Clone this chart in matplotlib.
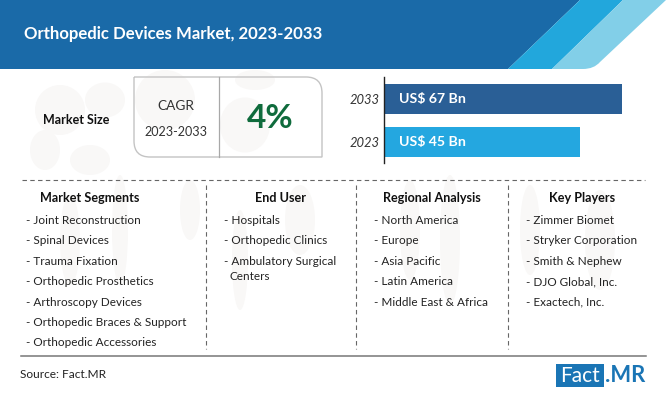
import matplotlib
matplotlib.use('Agg')
import matplotlib.pyplot as plt
from matplotlib.patches import Polygon, Rectangle, Ellipse, PathPatch
from matplotlib.path import Path

# Data
title = 'Orthopedic Devices Market, 2023-2033'
years = ['2033', '2023']
market_size = [67, 45]
bar_labels = ['US$ 67 Bn', 'US$ 45 Bn']
cagr = '4%'

headings = ['Market Segments', 'End User', 'Regional Analysis', 'Key Players']
segments = ['Joint Reconstruction', 'Spinal Devices', 'Trauma Fixation', 'Orthopedic Prosthetics',
            'Arthroscopy Devices', 'Orthopedic Braces & Support', 'Orthopedic Accessories']
end_users = ['Hospitals', 'Orthopedic Clinics', 'Ambulatory Surgical\nCenters']
regions = ['North America', 'Europe', 'Asia Pacific', 'Latin America', 'Middle East & Africa']
players = ['Zimmer Biomet', 'Stryker Corporation', 'Smith & Nephew', 'DJO Global, Inc.', 'Exactech, Inc.']

W, H = 666, 400
plt.rcParams['font.family'] = ['Lato', 'DejaVu Sans']

fig = plt.figure(figsize=(W / 100, H / 100), dpi=100)
bg = fig.add_axes([0, 0, 1, 1])
bg.set_xlim(0, W)
bg.set_ylim(H, 0)
bg.axis('off')

# faint watermark behind the content
for x, y, w, h in [(60, 110, 50, 50), (105, 100, 40, 35), (45, 150, 30, 40), (90, 160, 40, 30),
                   (165, 100, 60, 60), (245, 125, 50, 55), (255, 80, 40, 20),
                   (120, 230, 16, 110), (70, 240, 20, 90), (190, 210, 20, 60),
                   (240, 260, 16, 100), (300, 220, 30, 70), (450, 240, 20, 130),
                   (410, 230, 20, 100), (600, 240, 30, 100), (530, 230, 20, 90)]:
    bg.add_patch(Ellipse((x, y), w, h, color='#f9f8f7', lw=0, zorder=0))

# header band
bg.add_patch(Rectangle((0, 0), W, 69, color='#1a6aa8', lw=0, zorder=1))
bg.add_patch(Polygon([(W, 69), (W, 0), (580, 0), (508, 69)], color='white', lw=0, zorder=2))
bg.add_patch(Polygon([(580, 0), (623, 0), (552, 69), (508, 69)], color='#22a7dc', lw=0, zorder=3))
band = Path([(623, 0), (666, 0), (600, 62), (594, 69), (583, 69), (552, 69), (623, 0)],
            [Path.MOVETO, Path.LINETO, Path.LINETO, Path.CURVE3, Path.CURVE3, Path.LINETO, Path.CLOSEPOLY])
bg.add_patch(PathPatch(band, color='#82cfe8', lw=0, zorder=3))
bg.text(24, 34.5, title, color='white', fontsize=12.1, fontweight='bold', va='center', zorder=4)

# CAGR box
box = Path([(134, 77), (306, 77), (322, 77), (322, 93), (322, 157), (150, 157), (134, 157), (134, 141), (134, 77)],
           [Path.MOVETO, Path.LINETO, Path.CURVE3, Path.CURVE3, Path.LINETO, Path.LINETO,
            Path.CURVE3, Path.CURVE3, Path.LINETO])
bg.add_patch(PathPatch(box, fc='none', ec='#c4c4c4', lw=1, zorder=2))
bg.plot([218.5, 218.5], [77, 157], color='#a8a8a8', lw=0.9, zorder=2)
bg.text(76.5, 120, 'Market Size', color='#111111', fontsize=9, fontweight='bold', ha='center', va='center', zorder=4)
bg.text(175.5, 105.5, 'CAGR', color='#333333', fontsize=9.8, ha='center', va='center', zorder=4)
bg.text(175.5, 131.5, '2023-2033', color='#333333', fontsize=9.1, ha='center', va='center', zorder=4)
bg.text(270, 119, cagr, color='#0f6b3c', fontsize=24, fontweight='bold', ha='center', va='center', zorder=4)

# bars, baseline is not at zero in the original
ax_x0, ax_x1, ax_y0, ax_y1 = 383.5, 640, 77, 163
ax = fig.add_axes([ax_x0 / W, 1 - ax_y1 / H, (ax_x1 - ax_x0) / W, (ax_y1 - ax_y0) / H])
ax.patch.set_alpha(0)
base = -55.8
ax.barh(years, [v - base for v in market_size], left=base, height=0.7, color=['#2a5f96', '#24a7e0'])
ax.set_xlim(base, base + (ax_x1 - ax_x0) / 1.946)
ax.set_ylim(1.488, -0.512)
for s in ['top', 'right', 'bottom']:
    ax.spines[s].set_visible(False)
ax.spines['left'].set_linewidth(1)
ax.spines['left'].set_color('#222222')
ax.set_xticks([])
ax.tick_params(axis='y', length=0, pad=2.5)
for t in ax.get_yticklabels():
    t.set_fontsize(9.4)
    t.set_fontstyle('italic')
    t.set_color('#333333')
for i, lab in enumerate(bar_labels):
    ax.text(base + 7.8, i, lab, color='white', fontsize=10.2, fontweight='bold', va='center')

# table rules
bg.plot([22, 645], [179.5, 179.5], color='#666666', lw=0.8, ls=(0, (4, 3)), zorder=2)
bg.plot([21, 646], [355.7, 355.7], color='#777777', lw=1.1, zorder=2)
for x in [205.5, 356, 507.5]:
    bg.plot([x, x], [185, 349], color='#666666', lw=0.8, ls=(0, (4, 3)), zorder=2)

# table columns
head_x = [89.7, 280.7, 431.7, 582]
item_x = [25.5, 223.5, 374.5, 525.5]
row_y = [220.5, 241, 261.5, 281.5, 302, 322.5, 343]
columns = [segments, end_users, regions, players]
for hx, ix, name, items in zip(head_x, item_x, headings, columns):
    bg.text(hx, 198, name, color='#111111', fontsize=9.1, fontweight='bold', ha='center', va='center', zorder=4)
    for y, item in zip(row_y, items):
        lines = item.split('\n')
        bg.text(ix, y, '- ' + lines[0], color='#222222', fontsize=8.5, va='center', zorder=4)
        if len(lines) > 1:
            bg.text(ix + 6, y + 14.5, lines[1], color='#222222', fontsize=8.5, va='center', zorder=4)

# footer
bg.text(20, 374, 'Source: Fact.MR', color='#222222', fontsize=8.6, va='center', zorder=4)
bg.add_patch(Rectangle((556, 364), 47.5, 23, color='#1a75b5', lw=0, zorder=3))
bg.text(579.5, 375.5, 'Fact', color='white', fontsize=15, ha='center', va='center', zorder=4)
bg.text(605, 375.5, '.MR', color='#1a75b5', fontsize=15.8, fontweight='bold', va='center', zorder=4)

fig.savefig('out.png', dpi=100)
